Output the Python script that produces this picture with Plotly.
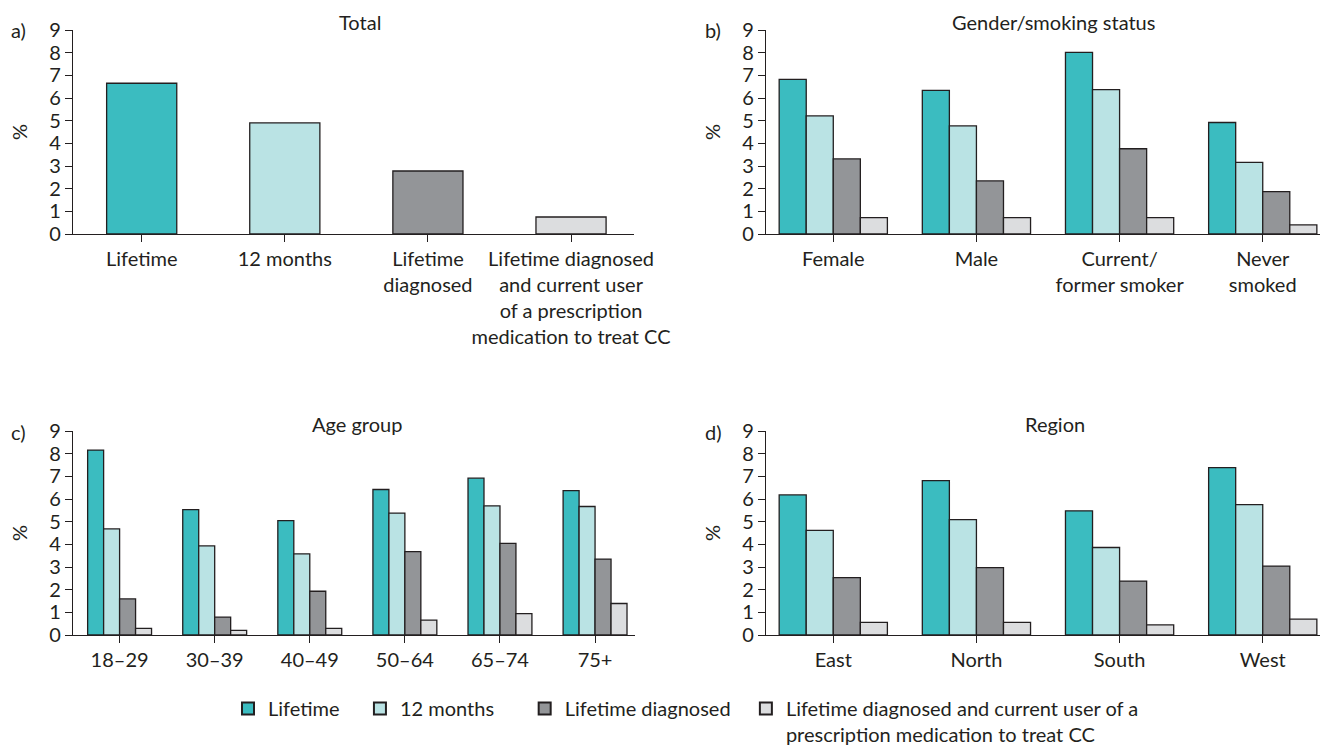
import plotly.graph_objects as go

W, H = 1320, 747

series = ["Lifetime\u00a0\u00a0\u00a0", "12 months\u00a0\u00a0\u00a0\u00a0\u00a0", "Lifetime diagnosed\u00a0\u00a0",
          "Lifetime diagnosed and current user of a<br>prescription medication to treat CC"]
colors = ["#3bbcc0", "#bae3e4", "#939598", "#dcdddf"]

# Panel a
total_cats = ["Lifetime", "12 months", "Lifetime<br>diagnosed",
              "Lifetime diagnosed<br>and current user<br>of a prescription<br>medication to treat CC"]
total_vals = [6.65, 4.9, 2.78, 0.75]

# Panel b
gs_cats = ["Female", "Male", "Current/<br>former smoker", "Never<br>smoked"]
gs_lifetime = [6.82, 6.34, 8.01, 4.92]
gs_12m = [5.21, 4.77, 6.37, 3.16]
gs_diag = [3.31, 2.34, 3.76, 1.87]
gs_med = [0.72, 0.72, 0.72, 0.40]

# Panel c
age_cats = ["18–29", "30–39", "40–49", "50–64", "65–74", "75+"]
age_lifetime = [8.16, 5.53, 5.05, 6.42, 6.92, 6.37]
age_12m = [4.68, 3.93, 3.58, 5.38, 5.70, 5.67]
age_diag = [1.59, 0.79, 1.93, 3.68, 4.04, 3.35]
age_med = [0.29, 0.20, 0.29, 0.66, 0.94, 1.39]

# Panel d
reg_cats = ["East", "North", "South", "West"]
reg_lifetime = [6.18, 6.81, 5.48, 7.38]
reg_12m = [4.62, 5.09, 3.86, 5.75]
reg_diag = [2.53, 2.97, 2.38, 3.04]
reg_med = [0.56, 0.56, 0.45, 0.70]

FONT = "Lato"
FS = 20
TXT = "#231f20"
LINE = "#231f20"

fig = go.Figure()

# panel a: single bars, distinct colours
fig.add_trace(go.Bar(x=total_cats, y=total_vals, width=0.49,
                     marker=dict(color=colors, line=dict(color=LINE, width=1.3)),
                     showlegend=False, xaxis="x", yaxis="y"))


def add_group(cats, series_vals, xa, ya, w, legend):
    n = len(series_vals)
    for k, vals in enumerate(series_vals):
        fig.add_trace(go.Bar(
            x=cats, y=vals, width=w, offset=-n / 2 * w + k * w,
            name=series[k], legendrank=k + 1,
            marker=dict(color=colors[k], line=dict(color=LINE, width=1.3)),
            showlegend=legend, xaxis=xa, yaxis=ya))


add_group(gs_cats, [gs_lifetime, gs_12m, gs_diag, gs_med], "x2", "y2", 0.189, True)
add_group(age_cats, [age_lifetime, age_12m, age_diag, age_med], "x3", "y3", 0.168, False)
add_group(reg_cats, [reg_lifetime, reg_12m, reg_diag, reg_med], "x4", "y4", 0.189, False)


def fx(px):
    return px / W


def fy(py):
    return 1 - py / H


def px_x(a, b):
    return [fx(a), fx(b)]


def px_y(top, bottom):
    return [fy(bottom), fy(top)]


xcommon = dict(showline=True, linecolor=LINE, linewidth=1.3, ticks="outside",
               ticklen=7, tickcolor=LINE, tickwidth=1.3, showgrid=False,
               tickfont=dict(family=FONT, size=FS, color=TXT), zeroline=False,
               type="category", automargin=False, tickangle=0)
ycommon = dict(showline=True, linecolor=LINE, linewidth=1.3, ticks="outside",
               ticklen=7, tickcolor=LINE, tickwidth=1.3, showgrid=False,
               tickfont=dict(family=FONT, size=FS, color=TXT), zeroline=False,
               range=[0, 9], dtick=1, tick0=0, automargin=False,
               title=dict(text="%", font=dict(family=FONT, size=FS, color=TXT), standoff=16))

fig.update_layout(
    width=W, height=H,
    margin=dict(l=0, r=0, t=0, b=0, autoexpand=False),
    plot_bgcolor="white", paper_bgcolor="white",
    barmode="overlay",
    font=dict(family=FONT, size=FS, color=TXT),
    xaxis=dict(xcommon, domain=px_x(73, 634), range=[-0.48, 3.44], anchor="y"),
    yaxis=dict(ycommon, domain=px_y(30, 234), anchor="x"),
    xaxis2=dict(xcommon, domain=px_x(766, 1320), range=[-0.47, 3.4], anchor="y2"),
    yaxis2=dict(ycommon, domain=px_y(30, 234), anchor="x2"),
    xaxis3=dict(xcommon, domain=px_x(73, 635), range=[-0.49, 5.42], anchor="y3"),
    yaxis3=dict(ycommon, domain=px_y(431, 635), anchor="x3"),
    xaxis4=dict(xcommon, domain=px_x(766, 1320), range=[-0.47, 3.4], anchor="y4"),
    yaxis4=dict(ycommon, domain=px_y(431, 635), anchor="x4"),
    legend=dict(orientation="h", x=fx(228), y=fy(689), xanchor="left", yanchor="top",
                font=dict(family=FONT, size=FS, color=TXT), valign="top",
                traceorder="normal", itemsizing="constant", bgcolor="rgba(0,0,0,0)"),
    showlegend=True,
)

annos = [
    ("Total", 360, 22, "center"),
    ("Gender/smoking status", 1053, 22, "center"),
    ("Age group", 357, 424, "center"),
    ("Region", 1055, 424, "center"),
    ("a)", 9, 30, "left"),
    ("b)", 703, 30, "left"),
    ("c)", 9, 432, "left"),
    ("d)", 703, 432, "left"),
]
for text, x, y, xa in annos:
    fig.add_annotation(text=text, x=fx(x), y=fy(y), xref="paper", yref="paper",
                       xanchor=xa, yanchor="middle", showarrow=False,
                       font=dict(family=FONT, size=FS, color=TXT))

# remove the browser's default page margin so the figure fills the window exactly
fig.write_html("out.html", config={"displayModeBar": False},
               post_script="document.body.style.margin='0';document.body.style.overflow='hidden';")
